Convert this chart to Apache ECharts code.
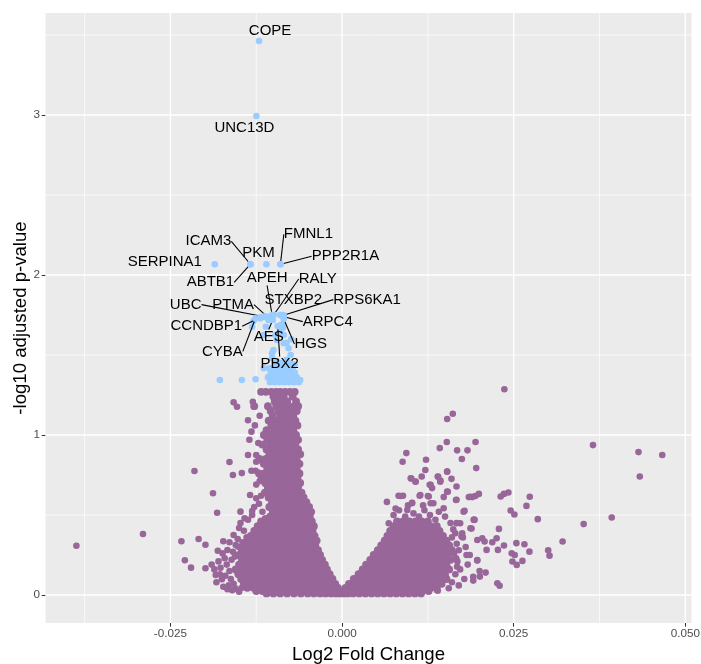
<!DOCTYPE html>
<html><head><meta charset="utf-8">
<script src="https://cdn.jsdelivr.net/npm/echarts@6/dist/echarts.min.js"></script>
<style>html,body{margin:0;padding:0;background:#fff}#c{width:701px;height:664px}</style>
</head><body><div id="c"></div>
<script>
// ---------- axis ticks ----------
const xTicks = [-0.025, 0, 0.025, 0.05];
const xMinor = [-0.0375, -0.0125, 0.0125, 0.0375];
const yTicks = [0, 1, 2, 3];
const yMinor = [0.5, 1.5, 2.5, 3.5];

// ---------- labelled (significant) genes ----------
const geneNames = ["COPE","UNC13D","SERPINA1","ICAM3","ABTB1","PKM","FMNL1","PPP2R1A","APEH","RALY","STXBP2","RPS6KA1","UBC","PTMA","CCNDBP1","ARPC4","CYBA","AES","HGS","PBX2"];
const geneX = [-0.01209,-0.01248,-0.01855,-0.01335,-0.01335,-0.01102,-0.00898,-0.00898,-0.01019,-0.00996,-0.00855,-0.00874,-0.01142,-0.01092,-0.0119,-0.0085,-0.01262,-0.0101,-0.0085,-0.00938];
const geneY = [3.4625,2.994,2.067,2.067,2.067,2.067,2.067,2.067,1.75,1.75,1.75,1.746,1.74,1.74,1.736,1.74,1.729,1.719,1.725,1.681];

// ---------- other significant genes (x, y) ----------
const sigPoints = [
 [-0.0178,1.344],[-0.0146,1.344],[-0.0126,1.348],[-0.0114,1.417],[-0.0106,1.417],
 [-0.0105,1.33],[-0.0098,1.33],[-0.0091,1.33],[-0.0084,1.33],[-0.0077,1.33],[-0.0070,1.33],[-0.0063,1.33],
 [-0.0108,1.36],[-0.0101,1.36],[-0.0094,1.36],[-0.0087,1.36],[-0.0080,1.36],[-0.0073,1.36],[-0.0066,1.36],[-0.0061,1.344],
 [-0.0104,1.39],[-0.0097,1.39],[-0.0090,1.39],[-0.0083,1.39],[-0.0076,1.39],[-0.0069,1.39],
 [-0.0100,1.42],[-0.0093,1.42],[-0.0086,1.42],[-0.0079,1.42],[-0.0072,1.42],
 [-0.0096,1.45],[-0.0089,1.45],[-0.0082,1.45],[-0.0075,1.448],[-0.0083,1.427],
 [-0.0102,1.48],[-0.0081,1.47],[-0.0069,1.44],[-0.0095,1.458],[-0.0102,1.51],
 [-0.0085,1.573],[-0.0085,1.625],[-0.0090,1.646],[-0.0086,1.671],[-0.0078,1.542],[-0.0075,1.50],
 [-0.0100,1.531],[-0.0095,1.594],[-0.0114,1.625],[-0.0111,1.677],[-0.0107,1.719],[-0.0131,1.677],
 [-0.0129,1.712],[-0.0119,1.729],[-0.0109,1.733],[-0.0090,1.75],[-0.0097,1.625],[-0.0090,1.629],
 [-0.0081,1.576],[-0.0074,1.598],[-0.0088,1.69]
];

// ---------- non-significant genes: dense left core, rows [y, [x...]] ----------
const leftCoreRows = [
 [1.27,[-0.0118,-0.0111,-0.0103,-0.0096,-0.0090,-0.0083,-0.0076,-0.0069]],
 [1.24,[-0.0100,-0.0092,-0.0085,-0.0072]],
 [1.21,[-0.0098,-0.0089,-0.0080,-0.0067]],
 [1.18,[-0.0128,-0.0108,-0.0096,-0.0088,-0.0079,-0.0070,-0.0064]],
 [1.15,[-0.0104,-0.0093,-0.0084,-0.0075,-0.0066]],
 [1.12,[-0.0101,-0.0090,-0.0081,-0.0071]],
 [1.09,[-0.0107,-0.0097,-0.0087,-0.0078,-0.0068]],
 [1.06,[-0.0103,-0.0093,-0.0084,-0.0074,-0.0065]],
 [1.03,[-0.0110,-0.0099,-0.0089,-0.0080,-0.0071]],
 [1.00,[-0.0114,-0.0104,-0.0094,-0.0085,-0.0076,-0.0067]],
 [0.97,[-0.0109,-0.0099,-0.0090,-0.0081,-0.0072,-0.0064]],
 [0.94,[-0.0116,-0.0105,-0.0095,-0.0086,-0.0077,-0.0068]],
 [0.91,[-0.0110,-0.0100,-0.0091,-0.0082,-0.0073,-0.0064]],
 [0.88,[-0.0106,-0.0096,-0.0087,-0.0078,-0.0069,-0.0061]],
 [0.85,[-0.0120,-0.0111,-0.0101,-0.0092,-0.0083,-0.0074,-0.0066]],
 [0.82,[-0.0114,-0.0105,-0.0096,-0.0088,-0.0079,-0.0070,-0.0062]],
 [0.79,[-0.0109,-0.0100,-0.0092,-0.0083,-0.0074,-0.0066]],
 [0.76,[-0.0121,-0.0113,-0.0104,-0.0096,-0.0087,-0.0078,-0.0070,-0.0062]],
 [0.73,[-0.0117,-0.0108,-0.0099,-0.0091,-0.0082,-0.0073,-0.0065]],
 [0.70,[-0.0112,-0.0103,-0.0095,-0.0086,-0.0077,-0.0069,-0.0061]],
 [0.67,[-0.0108,-0.0099,-0.0090,-0.0081,-0.0073,-0.0064]],
 [0.64,[-0.0112,-0.0103,-0.0094,-0.0085,-0.0076,-0.0068,-0.0059]],
 [0.61,[-0.0107,-0.0098,-0.0089,-0.0080,-0.0072,-0.0063,-0.0056]],
 [0.58,[-0.0102,-0.0093,-0.0084,-0.0075,-0.0067,-0.0059,-0.0052]],
 [0.55,[-0.0106,-0.0097,-0.0088,-0.0079,-0.0071,-0.0063,-0.0055,-0.0048]],
 [0.52,[-0.0101,-0.0092,-0.0083,-0.0075,-0.0067,-0.0059,-0.0051,-0.0045]],
 [0.49,[-0.0105,-0.0096,-0.0087,-0.0079,-0.0071,-0.0063,-0.0055,-0.0047]],
 [0.46,[-0.0118,-0.0109,-0.0100,-0.0091,-0.0083,-0.0075,-0.0067,-0.0059,-0.0051,-0.0044]],
 [0.43,[-0.0123,-0.0113,-0.0104,-0.0095,-0.0087,-0.0079,-0.0071,-0.0063,-0.0055,-0.0047,-0.0041]],
 [0.40,[-0.0128,-0.0118,-0.0108,-0.0099,-0.0091,-0.0083,-0.0075,-0.0067,-0.0059,-0.0051,-0.0043]],
 [0.37,[-0.0133,-0.0123,-0.0113,-0.0104,-0.0095,-0.0087,-0.0079,-0.0071,-0.0063,-0.0055,-0.0047,-0.0040]],
 [0.34,[-0.0138,-0.0128,-0.0118,-0.0109,-0.0100,-0.0091,-0.0083,-0.0075,-0.0067,-0.0059,-0.0051,-0.0043,-0.0037]],
 [0.31,[-0.0142,-0.0133,-0.0123,-0.0114,-0.0105,-0.0096,-0.0087,-0.0079,-0.0071,-0.0063,-0.0055,-0.0047,-0.0039]],
 [0.28,[-0.0146,-0.0137,-0.0128,-0.0119,-0.0110,-0.0101,-0.0092,-0.0083,-0.0075,-0.0067,-0.0059,-0.0051,-0.0043,-0.0035]],
 [0.25,[-0.0150,-0.0141,-0.0132,-0.0123,-0.0114,-0.0105,-0.0096,-0.0087,-0.0079,-0.0071,-0.0063,-0.0055,-0.0047,-0.0039,-0.0032]],
 [0.22,[-0.0146,-0.0137,-0.0128,-0.0119,-0.0110,-0.0101,-0.0092,-0.0083,-0.0075,-0.0067,-0.0059,-0.0051,-0.0043,-0.0035,-0.0029]],
 [0.19,[-0.0150,-0.0141,-0.0132,-0.0123,-0.0114,-0.0105,-0.0096,-0.0087,-0.0079,-0.0071,-0.0063,-0.0055,-0.0047,-0.0039,-0.0031,-0.0025]],
 [0.16,[-0.0155,-0.0146,-0.0137,-0.0128,-0.0119,-0.0110,-0.0101,-0.0092,-0.0083,-0.0075,-0.0067,-0.0059,-0.0051,-0.0043,-0.0035,-0.0028,-0.0022]],
 [0.13,[-0.0151,-0.0142,-0.0133,-0.0124,-0.0115,-0.0106,-0.0097,-0.0088,-0.0079,-0.0071,-0.0063,-0.0055,-0.0047,-0.0039,-0.0031,-0.0024,-0.0018]],
 [0.10,[-0.0147,-0.0138,-0.0129,-0.0120,-0.0111,-0.0102,-0.0093,-0.0084,-0.0075,-0.0067,-0.0059,-0.0051,-0.0043,-0.0035,-0.0027,-0.0020,-0.0014]],
 [0.07,[-0.0143,-0.0134,-0.0125,-0.0116,-0.0107,-0.0098,-0.0089,-0.0080,-0.0071,-0.0063,-0.0055,-0.0047,-0.0039,-0.0031,-0.0023,-0.0016,-0.0010]],
 [0.045,[-0.0138,-0.0129,-0.0120,-0.0111,-0.0102,-0.0093,-0.0084,-0.0075,-0.0066,-0.0058,-0.0050,-0.0042,-0.0034,-0.0026,-0.0019,-0.0012,-0.0006]],
 [0.025,[-0.0125,-0.0116,-0.0107,-0.0098,-0.0089,-0.0080,-0.0071,-0.0062,-0.0053,-0.0045,-0.0037,-0.0029,-0.0021,-0.0014,-0.0008,-0.0003]],
 [0.01,[-0.0110,-0.0100,-0.0090,-0.0080,-0.0070,-0.0060,-0.0050,-0.0041,-0.0032,-0.0024,-0.0016,-0.0009,-0.0003,0.0002]]
];

// ---------- non-significant genes: dense right core, rows [y, [x...]] ----------
const rightCoreRows = [
 [0.46,[0.0080,0.0089,0.0098,0.0107,0.0116,0.0125]],
 [0.43,[0.0075,0.0084,0.0093,0.0102,0.0111,0.0120,0.0129,0.0138]],
 [0.40,[0.0070,0.0079,0.0088,0.0097,0.0106,0.0115,0.0124,0.0133,0.0142]],
 [0.37,[0.0066,0.0075,0.0084,0.0093,0.0102,0.0111,0.0120,0.0129,0.0138,0.0147]],
 [0.34,[0.0062,0.0071,0.0080,0.0089,0.0098,0.0107,0.0116,0.0125,0.0134,0.0143,0.0152]],
 [0.31,[0.0057,0.0066,0.0075,0.0084,0.0093,0.0102,0.0111,0.0120,0.0129,0.0138,0.0147,0.0156]],
 [0.28,[0.0052,0.0061,0.0070,0.0079,0.0088,0.0097,0.0106,0.0115,0.0124,0.0133,0.0142,0.0151,0.0160]],
 [0.25,[0.0046,0.0055,0.0064,0.0073,0.0082,0.0091,0.0100,0.0109,0.0118,0.0127,0.0136,0.0145,0.0154]],
 [0.22,[0.0041,0.0050,0.0059,0.0068,0.0077,0.0086,0.0095,0.0104,0.0113,0.0122,0.0131,0.0140,0.0149,0.0158]],
 [0.19,[0.0035,0.0044,0.0053,0.0062,0.0071,0.0080,0.0089,0.0098,0.0107,0.0116,0.0125,0.0134,0.0143,0.0152]],
 [0.16,[0.0030,0.0039,0.0048,0.0057,0.0066,0.0075,0.0084,0.0093,0.0102,0.0111,0.0120,0.0129,0.0138,0.0147,0.0156]],
 [0.13,[0.0024,0.0033,0.0042,0.0051,0.0060,0.0069,0.0078,0.0087,0.0096,0.0105,0.0114,0.0123,0.0132,0.0141,0.0150]],
 [0.10,[0.0017,0.0026,0.0035,0.0044,0.0053,0.0062,0.0071,0.0080,0.0089,0.0098,0.0107,0.0116,0.0125,0.0134,0.0143,0.0152]],
 [0.07,[0.0010,0.0019,0.0028,0.0037,0.0046,0.0055,0.0064,0.0073,0.0082,0.0091,0.0100,0.0109,0.0118,0.0127,0.0136,0.0145]],
 [0.045,[0.0005,0.0013,0.0021,0.0030,0.0039,0.0048,0.0057,0.0066,0.0075,0.0084,0.0093,0.0102,0.0111,0.0120,0.0129,0.0138]],
 [0.025,[0.0003,0.0010,0.0018,0.0027,0.0036,0.0045,0.0054,0.0063,0.0072,0.0081,0.0090,0.0099,0.0108,0.0117,0.0126]],
 [0.01,[0.0008,0.0016,0.0025,0.0034,0.0043,0.0052,0.0061,0.0070,0.0079,0.0088,0.0097,0.0106,0.0115]]
];

// ---------- non-significant genes: scattered points (x, y) ----------
const leftScatter = [
 [-0.0387,0.308],[-0.0290,0.381],[-0.0215,0.775],[-0.0188,0.636],[-0.0182,0.514],[-0.0234,0.336],
 [-0.0209,0.350],[-0.0199,0.314],[-0.0229,0.217],[-0.0220,0.171],[-0.0199,0.167],[-0.0164,0.831],
 [-0.0159,0.750],[-0.0146,0.762],[-0.0158,1.204],[-0.0153,1.177],[-0.0130,1.208],[-0.0137,1.092],
 [-0.0132,1.021],[-0.0137,0.875],[-0.0125,0.875],[-0.0125,0.833],[-0.0116,0.833],[-0.0132,0.777],
 [-0.0126,0.777],[-0.0120,0.712],[-0.0134,0.625],[-0.0125,0.604],[-0.0148,0.521],[-0.0131,0.525],
 [-0.0131,0.500],[-0.0150,0.419],[-0.0143,0.402],[-0.0158,0.375],[-0.0173,0.336],[-0.0181,0.277],
 [-0.0167,0.281],[-0.0155,0.312],[-0.0151,0.302],[-0.0184,0.125],[-0.0175,0.098],[-0.0173,0.052],
 [-0.0167,0.036],[-0.0190,0.190],[-0.0186,0.160],[-0.0180,0.210],[-0.0177,0.170],[-0.0171,0.230],
 [-0.0168,0.190],[-0.0164,0.150],[-0.0161,0.220],[-0.0178,0.130],[-0.0170,0.120],[-0.0162,0.100],
 [-0.0158,0.070],[-0.0165,0.060],[-0.0155,0.040],[-0.0150,0.020],[-0.0160,0.030],[-0.0183,0.080],
 [-0.0174,0.260],[-0.0159,0.270],[-0.0164,0.330],[-0.0156,0.240],[-0.0152,0.140],[-0.0146,0.045],
 [-0.0148,0.450],[-0.0142,0.480],[-0.0139,0.360],[-0.0152,0.350],[-0.0145,0.330],[-0.0137,0.470],
 [-0.0128,0.550],[-0.0121,0.570],[-0.0118,0.620],[-0.0113,0.640],[-0.0125,0.690],[-0.0122,0.950],
 [-0.0127,1.060],[-0.0120,1.120],[-0.0135,0.970],[-0.0116,0.520],[-0.0112,0.480],[-0.0140,0.280]
];
const rightScatter = [
 [0.02364,1.286],[0.01531,1.100],[0.01613,1.133],[0.01525,0.956],[0.01944,0.956],[0.01423,0.918],
 [0.01676,0.904],[0.01827,0.904],[0.00936,0.887],[0.00882,0.833],[0.01223,0.845],[0.01745,0.850],
 [0.01954,0.793],[0.01213,0.781],[0.01531,0.772],[0.01009,0.728],[0.01072,0.709],[0.01160,0.741],
 [0.01394,0.741],[0.01433,0.716],[0.01594,0.726],[0.01277,0.689],[0.01311,0.668],[0.01667,0.678],
 [0.01540,0.645],[0.01993,0.632],[0.00653,0.582],[0.00823,0.620],[0.00887,0.620],[0.01019,0.574],
 [0.01130,0.620],[0.01262,0.616],[0.01481,0.612],[0.01667,0.595],[0.01847,0.612],[0.01896,0.612],
 [0.02310,0.616],[0.02358,0.632],[0.02423,0.641],[0.02734,0.614],[0.02686,0.557],[0.02456,0.528],
 [0.02510,0.503],[0.02851,0.474],[0.01784,0.526],[0.01920,0.472],[0.03655,0.937],[0.04318,0.893],
 [0.04664,0.875],[0.04337,0.741],[0.03928,0.484],[0.03519,0.443],[0.03212,0.334],[0.03002,0.280],
 [0.03022,0.246],[0.02729,0.271],[0.02656,0.317],[0.02539,0.324],[0.02471,0.261],[0.02515,0.250],
 [0.02481,0.209],[0.02544,0.188],[0.02627,0.213],[0.02285,0.413],[0.02251,0.355],[0.02188,0.330],
 [0.02105,0.282],[0.02270,0.282],[0.02358,0.309],[0.02042,0.355],[0.02076,0.334],[0.01969,0.215],
 [0.02091,0.140],[0.02003,0.150],[0.02007,0.115],[0.01911,0.090],[0.02262,0.073],[0.02295,0.058],
 [0.01394,0.027],[0.01554,0.042],[0.01930,0.470],[0.01886,0.415],[0.01750,0.386],[0.01740,0.365],
 [0.01667,0.449],[0.01662,0.230],[0.01676,0.177],[0.01813,0.250],
 [0.00850,0.619],[0.01020,0.577],[0.01140,0.625],[0.01250,0.619],[0.01290,0.573],[0.01330,0.573],
 [0.01000,0.729],[0.01070,0.708],[0.01290,0.688],[0.01400,0.739],[0.01430,0.708],[0.01530,0.771],
 [0.01530,0.646],[0.01660,0.594],[0.01870,0.614],[0.01940,0.619],[0.01770,0.521],[0.01920,0.469],
 [0.01480,0.542],[0.00950,0.531],[0.00680,0.448],[0.01720,0.448],[0.01870,0.417],[0.01650,0.386],
 [0.01970,0.344],[0.01970,0.219],[0.01910,0.114],[0.01380,0.031],
 [0.0075,0.50],[0.0083,0.53],[0.0092,0.49],[0.0104,0.51],[0.0112,0.49],[0.0120,0.53],[0.0128,0.50],
 [0.0136,0.47],[0.0141,0.52],[0.0150,0.49],[0.0158,0.45],[0.0162,0.41],[0.0160,0.36],[0.0167,0.32],
 [0.0170,0.28],[0.0163,0.26],[0.0168,0.21],[0.0172,0.16],[0.0165,0.13],[0.0160,0.08],[0.0170,0.06],
 [0.0178,0.10],[0.0183,0.19],[0.0180,0.30],[0.0176,0.36],[0.0186,0.25],[0.0096,0.56],[0.0118,0.56],[0.0078,0.54]
];

// ---------- layout (not data) ----------
const X_MIN = -0.0432, X_MAX = 0.0509, Y_MIN = -0.175, Y_MAX = 3.6375;
// pixel offsets of each gene label from its point; whether a segment is drawn
const labelLayoutMap = {
 COPE:[11,-10,false], UNC13D:[-12,12,false], SERPINA1:[-50,-2,false], ICAM3:[-42,-23,true],
 ABTB1:[-40,18,true], PKM:[-8,-11,false], FMNL1:[28,-30,true], PPP2R1A:[65,-8,true],
 APEH:[-5,-37,true], RALY:[44,-36,true], STXBP2:[10,-15,false], RPS6KA1:[85,-16,true],
 UBC:[-78,-12,true], PTMA:[-34,-12,true], CCNDBP1:[-54,9,true], ARPC4:[44,5,true],
 CYBA:[-33,33,true], AES:[-4,17,true], HGS:[27,25,true], PBX2:[2,38,true]
};

// ---------- build series data ----------
const coreData = [];
leftCoreRows.concat(rightCoreRows).forEach(r => r[1].forEach(x => coreData.push([x, r[0]])));
const scatterData = leftScatter.concat(rightScatter);

const geneData = geneNames.map((n, i) => ({
  name: n, value: [geneX[i], geneY[i]],
  labelLine: { show: labelLayoutMap[n][2] }
}));

const FONT = '"Liberation Sans", Arial, Helvetica, sans-serif';
const PURPLE = '#996699', BLUE = '#99CCFF';
const PT = 6.6;      // single point
const PT_CORE = 7.8; // points of the over-plotted dense core

const chart = echarts.init(document.getElementById('c'), null, { renderer: 'canvas' });
chart.setOption({
  animation: false,
  textStyle: { fontFamily: FONT },
  grid: { left: 45.5, right: 9.5, top: 13, bottom: 41, show: true, backgroundColor: '#EBEBEB', borderWidth: 0,
          containLabel: false, outerBoundsMode: 'none' },
  xAxis: {
    type: 'value', min: X_MIN, max: X_MAX,
    splitLine: { show: false }, minorSplitLine: { show: false },
    axisLine: { show: false, onZero: false },
    axisTick: { show: true, length: 3.7, customValues: xTicks, lineStyle: { color: '#333333', width: 1.07 } },
    axisLabel: { customValues: xTicks, formatter: v => v.toFixed(3), color: '#4D4D4D', fontSize: 11.7, margin: 5, fontFamily: FONT },
    name: 'Log2 Fold Change', nameLocation: 'middle', nameGap: 19,
    nameTextStyle: { fontSize: 18.6, color: '#000', fontFamily: FONT }
  },
  yAxis: {
    type: 'value', min: Y_MIN, max: Y_MAX,
    splitLine: { show: false }, minorSplitLine: { show: false },
    axisLine: { show: false, onZero: false },
    axisTick: { show: true, length: 3.7, customValues: yTicks, lineStyle: { color: '#333333', width: 1.07 } },
    axisLabel: { customValues: yTicks, formatter: v => String(v), color: '#4D4D4D', fontSize: 11.7, margin: 5.5, fontFamily: FONT },
    name: '-log10 adjusted p-value', nameLocation: 'middle', nameRotate: 90, nameGap: 15, nameMoveOverlap: false,
    nameTextStyle: { fontSize: 18.6, color: '#000', fontFamily: FONT }
  },
  series: [
    { type: 'custom', data: [[0, 0]], silent: true, z: 1, clip: false,
      renderItem: (params, api) => {
        const children = [];
        const seg = (a, b, w) => children.push({ type: 'line', silent: true,
          shape: { x1: a[0], y1: a[1], x2: b[0], y2: b[1] }, style: { stroke: '#ffffff', lineWidth: w } });
        xMinor.forEach(v => seg(api.coord([v, Y_MIN]), api.coord([v, Y_MAX]), 0.7));
        yMinor.forEach(v => seg(api.coord([X_MIN, v]), api.coord([X_MAX, v]), 0.7));
        xTicks.forEach(v => seg(api.coord([v, Y_MIN]), api.coord([v, Y_MAX]), 1.4));
        yTicks.forEach(v => seg(api.coord([X_MIN, v]), api.coord([X_MAX, v]), 1.4));
        return { type: 'group', children: children };
      }
    },
    { type: 'scatter', name: 'ns core', data: coreData, symbolSize: PT_CORE, z: 2,
      itemStyle: { color: PURPLE, opacity: 1 }, silent: true },
    { type: 'scatter', name: 'ns', data: scatterData, symbolSize: PT, z: 2,
      itemStyle: { color: PURPLE, opacity: 1 }, silent: true },
    { type: 'scatter', name: 'sig', data: sigPoints, symbolSize: PT, z: 3,
      itemStyle: { color: BLUE, opacity: 1 }, silent: true },
    { type: 'scatter', name: 'genes', data: geneData, symbolSize: PT, z: 4,
      itemStyle: { color: BLUE, opacity: 1 }, silent: true,
      label: { show: true, position: 'inside', formatter: p => p.name, color: '#000', fontSize: 15, fontFamily: FONT },
      labelLine: { show: true, lineStyle: { color: '#000', width: 1.1 } },
      labelLayout: p => { const o = labelLayoutMap[geneNames[p.dataIndex]]; return { dx: o[0], dy: o[1], hideOverlap: false, moveOverlap: false }; }
    }
  ]
});
</script>
</body></html>
